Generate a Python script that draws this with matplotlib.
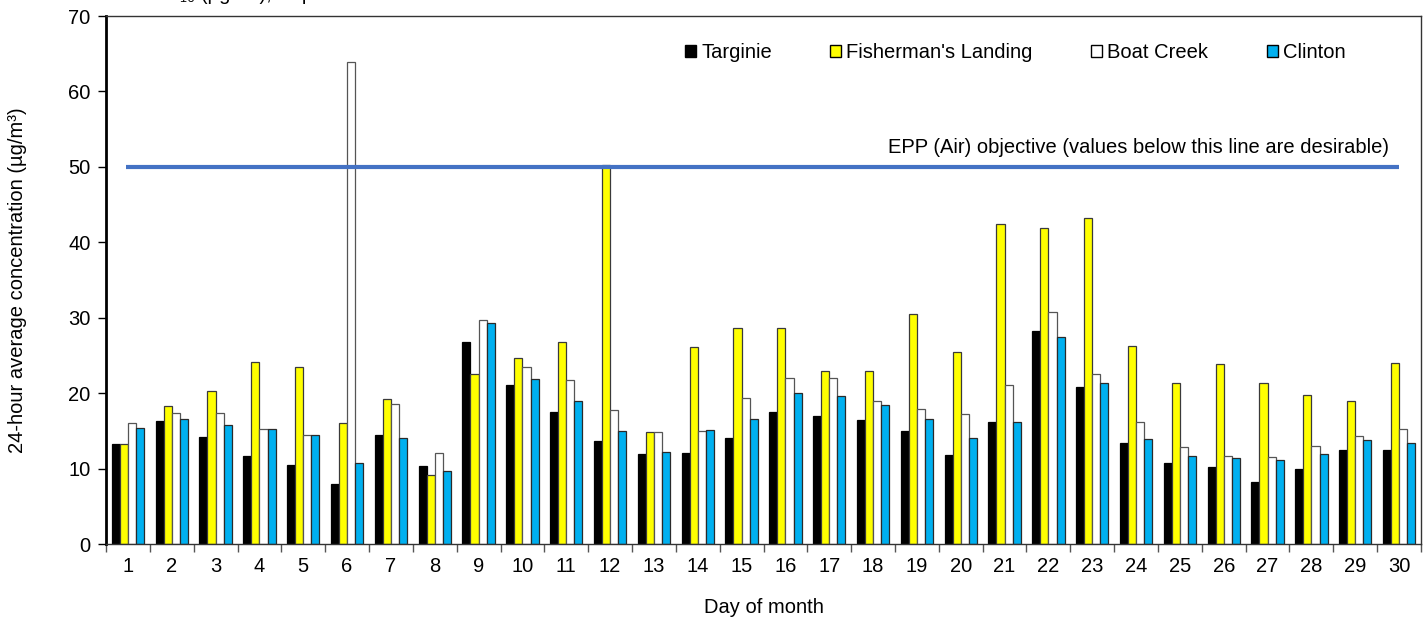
import matplotlib
matplotlib.use("Agg")
import matplotlib.pyplot as plt
import numpy as np
from matplotlib.patches import Patch

plt.rcParams['font.family'] = ['Liberation Sans', 'DejaVu Sans']

days = list(range(1, 31))
targinie = [13.3, 16.3, 14.2, 11.7, 10.5, 8.0, 14.5, 10.4, 26.8, 21.1,
            17.5, 13.7, 11.9, 12.0, 14.1, 17.5, 17.0, 16.5, 15.0, 11.8,
            16.2, 28.2, 20.8, 13.4, 10.7, 10.2, 8.2, 9.9, 12.5, 12.4]
fishermans = [13.3, 18.3, 20.3, 24.1, 23.4, 16.0, 19.2, 9.1, 22.6, 24.6,
              26.8, 50.2, 14.8, 26.1, 28.7, 28.7, 23.0, 23.0, 30.5, 25.5,
              42.4, 41.9, 43.2, 26.3, 21.4, 23.8, 21.3, 19.8, 18.9, 24.0]
boat_creek = [16.0, 17.4, 17.4, 15.3, 14.4, 63.9, 18.6, 12.1, 29.7, 23.4,
              21.7, 17.8, 14.9, 15.0, 19.3, 22.0, 22.0, 19.0, 17.9, 17.3,
              21.1, 30.7, 22.5, 16.2, 12.8, 11.7, 11.5, 13.0, 14.3, 15.3]
clinton = [15.4, 16.6, 15.8, 15.3, 14.4, 10.8, 14.1, 9.7, 29.3, 21.9,
           19.0, 15.0, 12.2, 15.1, 16.6, 20.0, 19.6, 18.4, 16.6, 14.0,
           16.2, 27.5, 21.4, 13.9, 11.7, 11.4, 11.1, 11.9, 13.8, 13.4]
series_names = ["Targinie", "Fisherman's Landing", "Boat Creek", "Clinton"]
objective = 50
objective_label = "EPP (Air) objective (values below this line are desirable)"

series = [targinie, fishermans, boat_creek, clinton]
faces = ['#000000', '#FFFF00', '#FFFFFF', '#00B0F0']
edges = ['#000000', '#3a3a3a', '#555555', '#2a2a2a']

FS = 14.5

fig = plt.figure(figsize=(14.27, 6.21), dpi=100)
ax = fig.add_axes([106/1427, 1-544/621, (1421-106)/1427, (544-16)/621])

x = np.array(days, dtype=float)
w = 0.185
for i, (vals, fc, ec) in enumerate(zip(series, faces, edges)):
    ax.bar(x + (i - 1.5) * w, vals, width=w, color=fc, edgecolor=ec,
           linewidth=0.9, zorder=2)

ax.plot([days[0] - 0.05, days[-1]], [objective, objective], color='#4472C4',
        linewidth=3, zorder=3, solid_capstyle='butt')
ax.text(days[-1] - 0.23, objective + 1.3, objective_label, ha='right', va='bottom',
        fontsize=FS, color='black')

ax.set_xlim(0.5, 30.5)
ax.set_ylim(0, 70)
ax.set_yticks(range(0, 71, 10))
ax.set_xticks(days)
ax.set_xticks(np.arange(0.5, 31, 1), minor=True)
ax.tick_params(axis='x', which='major', length=0, labelsize=FS, pad=9)
ax.tick_params(axis='x', which='minor', length=6, direction='out', width=1,
               color='#555555')
ax.tick_params(axis='y', length=6, direction='out', labelsize=FS, width=1, pad=5)
for s in ['top', 'right', 'bottom']:
    ax.spines[s].set_linewidth(1)
    ax.spines[s].set_color('#333333')
ax.spines['left'].set_linewidth(2)

ax.set_xlabel("Day of month", fontsize=FS, labelpad=16)
ax.set_ylabel("24-hour average concentration (µg/m³)", fontsize=FS, labelpad=30)

handles = [Patch(facecolor=fc, edgecolor='black', linewidth=1) for fc in faces]
ax.legend(handles, series_names, ncol=4, frameon=False, fontsize=FS,
          loc='upper left', bbox_to_anchor=(669/1427, 1-27/621),
          bbox_transform=fig.transFigure, handlelength=0.55, handleheight=0.55,
          handletextpad=0.25, columnspacing=2.9, borderpad=0.3)

fig.text(150/1427, 1 + 6/621, "PM₁₀ (µg/m³), Sep", fontsize=FS, va='center', ha='left')

fig.savefig("out.png", dpi=100)
